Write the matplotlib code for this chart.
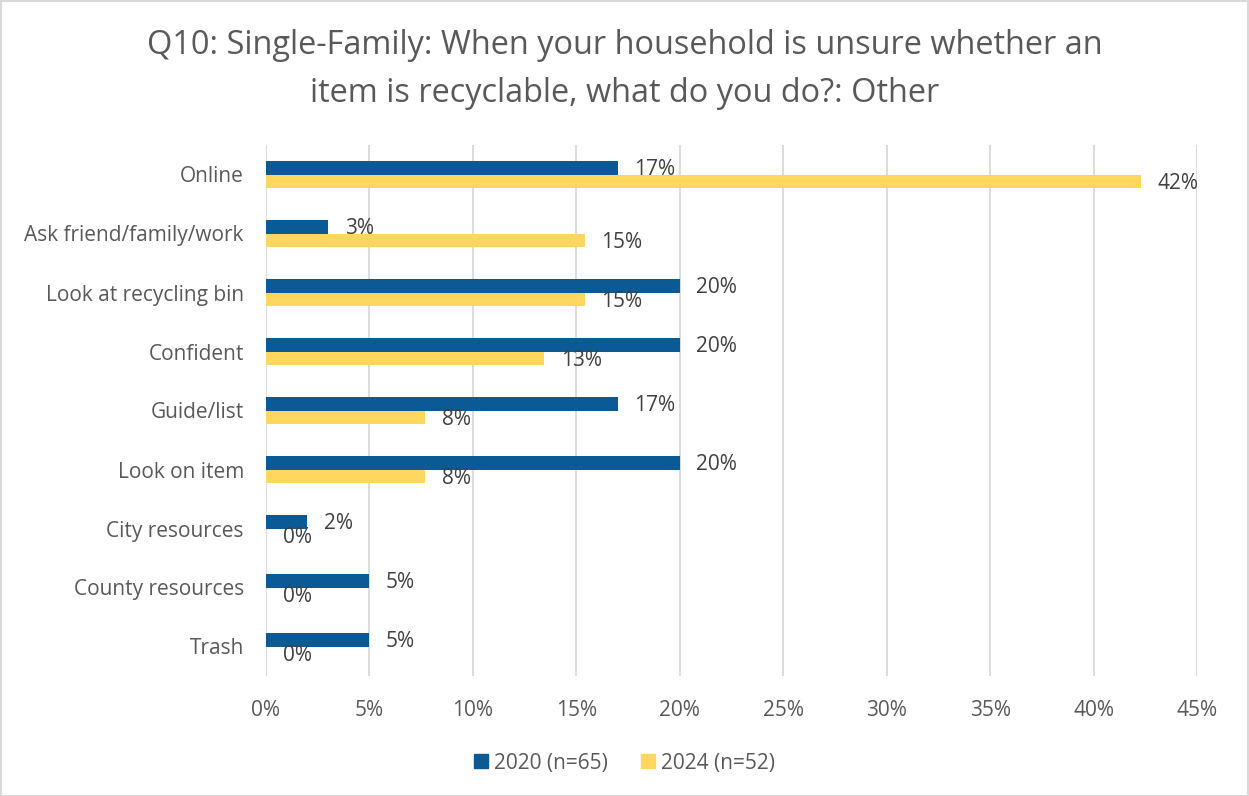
import matplotlib
matplotlib.use("Agg")
import matplotlib.pyplot as plt
from matplotlib.patches import Patch, Rectangle
from matplotlib.ticker import PercentFormatter, MultipleLocator
import numpy as np

categories = ["Online", "Ask friend/family/work", "Look at recycling bin", "Confident",
              "Guide/list", "Look on item", "City resources", "County resources", "Trash"]
series_2020 = [17.0, 3.0, 20.0, 20.0, 17.0, 20.0, 2.0, 5.0, 5.0]
series_2024 = [42.3, 15.4, 15.4, 13.46, 7.7, 7.7, 0.0, 0.0, 0.0]
series_names = ["2020 (n=65)", "2024 (n=52)"]
title = "Q10: Single-Family: When your household is unsure whether an\nitem is recyclable, what do you do?: Other"

BLUE = "#0B5A96"
YELLOW = "#FFD75E"
TXT = "#595959"
GRID = "#D9D9D9"

plt.rcParams['font.family'] = ['Open Sans', 'DejaVu Sans']

fig = plt.figure(figsize=(12.49, 7.96), dpi=100)
ax = fig.add_axes([266/1249, 1-676/796, (1197-266)/1249, (676-145)/796])

y = np.arange(len(categories))
h = 0.237
b1 = ax.barh(y - h/2, series_2020, height=h, color=BLUE, zorder=3)
b2 = ax.barh(y + h/2, series_2024, height=h, color=YELLOW, zorder=3)

for bars, vals in ((b1, series_2020), (b2, series_2024)):
    for bar, v in zip(bars, vals):
        ax.annotate(f"{v:.0f}%", xy=(v, bar.get_y() + bar.get_height()/2),
                    xytext=(12, -1.5), textcoords="offset points",
                    ha="left", va="center", fontsize=15, color="#404040")

ax.set_xlim(0, 45)
ax.set_ylim(len(categories) - 0.5, -0.5)
ax.xaxis.set_major_locator(MultipleLocator(5))
ax.xaxis.set_major_formatter(PercentFormatter(decimals=0))
ax.set_yticks(y)
ax.set_yticklabels(categories)
ax.tick_params(axis='both', length=0, labelsize=15, colors=TXT)
ax.tick_params(axis='x', pad=17)
ax.tick_params(axis='y', pad=16)
ax.grid(axis='x', color=GRID, linewidth=1.3, zorder=0)
for s in ax.spines.values():
    s.set_visible(False)

fig.suptitle(title, fontsize=23.4, color=TXT, y=1-29/796, va='top', linespacing=1.58)

handles = [Patch(color=BLUE, label=series_names[0]), Patch(color=YELLOW, label=series_names[1])]
fig.legend(handles=handles, loc='center', bbox_to_anchor=(0.5, 1-763/796), ncol=2,
           frameon=False, fontsize=15, labelcolor=TXT, handlelength=0.65, handleheight=0.65,
           columnspacing=1.6, handletextpad=0.3)

fig.patches.append(Rectangle((0.5/1249, 0.5/796), 1-1.5/1249, 1-1.5/796, transform=fig.transFigure,
                             fill=False, edgecolor=GRID, linewidth=1.5))

fig.savefig("out.png", dpi=100, facecolor="white")
